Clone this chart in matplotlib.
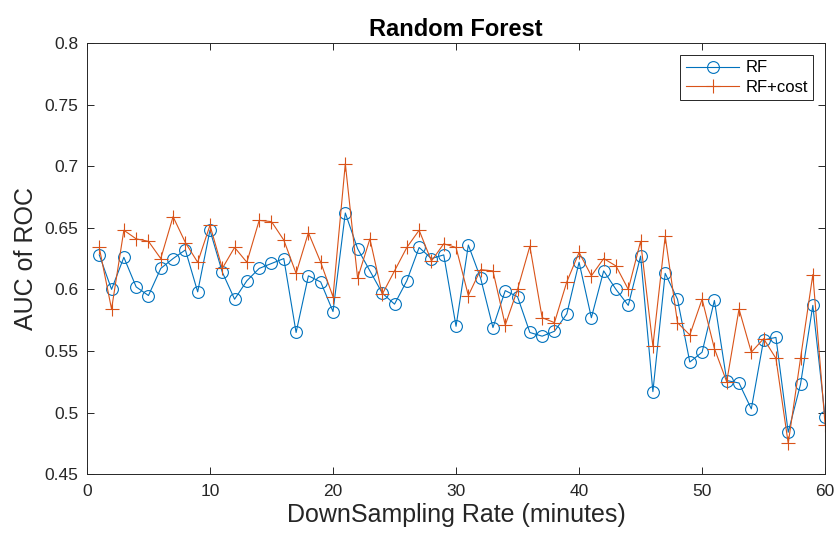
import matplotlib.pyplot as plt

plt.rcParams['font.family'] = ['Liberation Sans', 'DejaVu Sans']

# downsampling rate, minutes
rate = list(range(1, 61))

# AUC of ROC
auc_rf = [0.628, 0.600, 0.626, 0.602, 0.595, 0.617, 0.625, 0.632, 0.598, 0.648,
          0.614, 0.592, 0.607, 0.617, 0.621, 0.625, 0.565, 0.611, 0.606, 0.582,
          0.662, 0.633, 0.615, 0.597, 0.588, 0.607, 0.634, 0.625, 0.628, 0.570,
          0.636, 0.609, 0.569, 0.599, 0.594, 0.565, 0.562, 0.566, 0.580, 0.622,
          0.577, 0.615, 0.600, 0.587, 0.627, 0.517, 0.613, 0.592, 0.541, 0.549,
          0.591, 0.526, 0.524, 0.503, 0.559, 0.561, 0.484, 0.523, 0.587, 0.496]
auc_rf_cost = [0.634, 0.584, 0.648, 0.641, 0.639, 0.625, 0.659, 0.638, 0.622, 0.652,
               0.617, 0.634, 0.622, 0.656, 0.655, 0.640, 0.613, 0.646, 0.622, 0.594,
               0.702, 0.609, 0.641, 0.596, 0.615, 0.634, 0.648, 0.623, 0.637, 0.634,
               0.595, 0.616, 0.615, 0.571, 0.600, 0.635, 0.577, 0.573, 0.606, 0.630,
               0.611, 0.625, 0.619, 0.600, 0.639, 0.554, 0.643, 0.573, 0.563, 0.592,
               0.552, 0.525, 0.584, 0.549, 0.560, 0.544, 0.475, 0.544, 0.612, 0.490]

blue = '#0072BD'
orange = '#D95319'
axis_grey = '#262626'

fig = plt.figure(figsize=(8.36, 5.37), dpi=100)
ax = fig.add_axes([0.104, 0.117, 0.883, 0.803])

ax.plot(rate, auc_rf, color=blue, lw=0.8, marker='o', ms=8.5,
        mfc='none', mew=0.8, label='RF')
ax.plot(rate, auc_rf_cost, color=orange, lw=0.8, marker='+', ms=9.5,
        mew=0.8, label='RF+cost')

ax.set_xlim(0, 60)
ax.set_ylim(0.45, 0.8)
ax.set_xticks(range(0, 61, 10))
ax.set_yticks([0.45, 0.5, 0.55, 0.6, 0.65, 0.7, 0.75, 0.8])
ax.set_yticklabels(['0.45', '0.5', '0.55', '0.6', '0.65', '0.7', '0.75', '0.8'])

ax.tick_params(direction='in', top=True, right=True, length=5,
               width=0.7, colors=axis_grey, labelsize=12.5)
ax.tick_params(axis='x', pad=7)
ax.tick_params(axis='y', pad=6)
for sp in ax.spines.values():
    sp.set_color(axis_grey)
    sp.set_linewidth(0.7)

ax.set_xlabel('DownSampling Rate (minutes)', fontsize=18, color=axis_grey, labelpad=3)
ax.set_ylabel('AUC of ROC', fontsize=18, color=axis_grey, labelpad=5)
ax.set_title('Random Forest', fontsize=17, fontweight='bold', pad=5)

leg = ax.legend(loc='upper right', fontsize=12, fancybox=False,
                edgecolor=axis_grey, framealpha=1, borderaxespad=0.7,
                handlelength=3.2, handletextpad=0.35, borderpad=0.35,
                labelspacing=0.25)
leg.get_frame().set_linewidth(0.7)

fig.savefig('out.png', dpi=100)
